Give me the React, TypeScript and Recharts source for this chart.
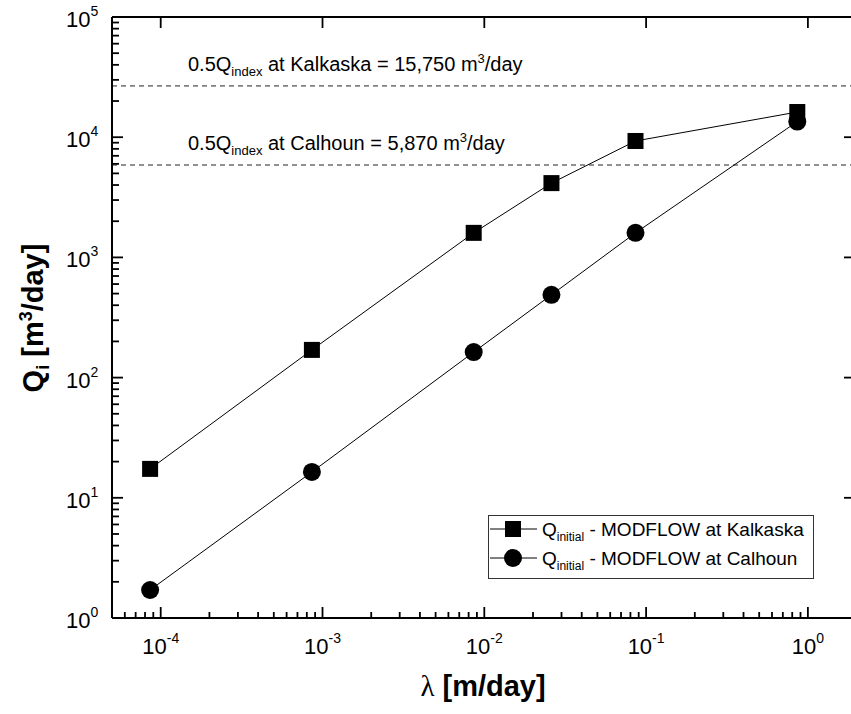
import React from 'react';
import { ScatterChart, Scatter, XAxis, YAxis, ReferenceLine, Legend } from 'recharts';

// ---- data ----
const lambdaValues = [8.6e-5, 8.6e-4, 8.6e-3, 0.026, 0.086, 0.86];
const kalkaskaQ = [17.4, 170, 1600, 4150, 9300, 16200];
const calhounQ = [1.71, 16.4, 163, 488, 1600, 13500];

const kalkaskaRefQ = 26700; // drawn position of the dashed line
const calhounRefQ = 5870;
const kalkaskaRefLabel = '15,750';
const calhounRefLabel = '5,870';

const xMajorTicks = [1e-4, 1e-3, 1e-2, 1e-1, 1];
const xMajorExponents = ['-4', '-3', '-2', '-1', '0'];
const xMinorTicks = [
  6e-5, 7e-5, 8e-5, 9e-5,
  2e-4, 3e-4, 4e-4, 5e-4, 6e-4, 7e-4, 8e-4, 9e-4,
  2e-3, 3e-3, 4e-3, 5e-3, 6e-3, 7e-3, 8e-3, 9e-3,
  2e-2, 3e-2, 4e-2, 5e-2, 6e-2, 7e-2, 8e-2, 9e-2,
  0.2, 0.3, 0.4, 0.5, 0.6, 0.7, 0.8, 0.9,
];
const yMajorTicks = [1, 10, 100, 1000, 10000, 100000];
const yMajorExponents = ['0', '1', '2', '3', '4', '5'];
const yMinorTicks = [
  2, 3, 4, 5, 6, 7, 8, 9,
  20, 30, 40, 50, 60, 70, 80, 90,
  200, 300, 400, 500, 600, 700, 800, 900,
  2000, 3000, 4000, 5000, 6000, 7000, 8000, 9000,
  20000, 30000, 40000, 50000, 60000, 70000, 80000, 90000,
];
const legendSites = ['Kalkaska', 'Calhoun'];

const kalkaskaData = lambdaValues.map((l, i) => ({ lambda: l, q: kalkaskaQ[i] }));
const calhounData = lambdaValues.map((l, i) => ({ lambda: l, q: calhounQ[i] }));

const FONT = '"Liberation Sans", Arial, sans-serif';

const BottomTick = (props: any) => {
  const { x, y, payload } = props;
  const idx = xMajorTicks.indexOf(payload.value);
  const major = idx >= 0;
  return (
    <g>
      <line x1={x} y1={y} x2={x} y2={y - (major ? 11 : 6)} stroke="#000" strokeWidth={1.8} />
      {major && (
        <text x={x} y={y + 36} textAnchor="middle" fontSize={22} fontFamily={FONT} fill="#000">
          10<tspan dy={-11} fontSize={14}>{xMajorExponents[idx]}</tspan>
        </text>
      )}
    </g>
  );
};

const TopTick = (props: any) => {
  const { x, y } = props;
  return <line x1={x} y1={y} x2={x} y2={y + 11} stroke="#000" strokeWidth={1.8} />;
};

const LeftTick = (props: any) => {
  const { x, y, payload } = props;
  const idx = yMajorTicks.indexOf(payload.value);
  const major = idx >= 0;
  return (
    <g>
      <line x1={x} y1={y} x2={x + (major ? 11 : 7)} y2={y} stroke="#000" strokeWidth={1.8} />
      {major && (
        <text x={x - 46} y={y + 10} textAnchor="start" fontSize={22} fontFamily={FONT} fill="#000">
          10<tspan dy={-11} fontSize={14}>{yMajorExponents[idx]}</tspan>
        </text>
      )}
    </g>
  );
};

const RightTick = (props: any) => {
  const { x, y } = props;
  return <line x1={x} y1={y} x2={x - 9} y2={y} stroke="#000" strokeWidth={1.8} />;
};

const RefText = (props: any) => {
  const vb = props.viewBox || {};
  const x = (vb.x ?? 112) + 76;
  const y = (vb.y ?? 0) - 15;
  return (
    <text x={x} y={y} fontSize={20} fontFamily={FONT} fill="#000">
      0.5Q<tspan dy={5} fontSize={13}>index</tspan>
      <tspan dy={-5}>{` at ${props.site} = ${props.amount} m`}</tspan>
      <tspan dy={-8} fontSize={13}>3</tspan>
      <tspan dy={8}>/day</tspan>
    </text>
  );
};

const SquareShape = (p: any) => (
  <rect x={p.cx - 8} y={p.cy - 8} width={16} height={16} fill="#000" />
);
const CircleShape = (p: any) => <circle cx={p.cx} cy={p.cy} r={9} fill="#000" />;

const LegendBox = () => (
  <svg width={326} height={64} style={{ display: 'block' }}>
    <rect x={0.5} y={0.5} width={325} height={63} fill="#fff" stroke="#333" strokeWidth={1} />
    {legendSites.map((site, i) => {
      const cy = 14 + i * 29;
      return (
        <g key={site}>
          <line x1={2} y1={cy} x2={49} y2={cy} stroke="#000" strokeWidth={1} />
          {i === 0 ? (
            <rect x={17} y={cy - 8} width={16} height={16} fill="#000" />
          ) : (
            <circle cx={25} cy={cy} r={9} fill="#000" />
          )}
          <text x={54} y={cy + 7} fontSize={19} fontFamily={FONT} fill="#000">
            Q<tspan dy={5} fontSize={12}>initial</tspan>
            <tspan dy={-5}>{` - MODFLOW at ${site}`}</tspan>
          </text>
        </g>
      );
    })}
  </svg>
);

export default function App() {
  return (
    <div style={{ position: 'absolute', left: 0, top: 0, width: 851, height: 714, overflow: 'hidden', background: '#fff' }}>
      <ScatterChart
        width={860}
        height={714}
        margin={{ top: 16, left: 111, right: 6, bottom: 95 }}
      >
        <XAxis
          xAxisId="x"
          dataKey="lambda"
          type="number"
          scale="log"
          domain={[5e-5, 1.9]}
          allowDataOverflow
          ticks={[...xMinorTicks, ...xMajorTicks]}
          interval={0}
          height={1}
          tickSize={0}
          tickMargin={0}
          tickLine={false}
          axisLine={{ stroke: '#000', strokeWidth: 2 }}
          tick={<BottomTick />}
        />
        <XAxis
          xAxisId="top"
          orientation="top"
          dataKey="lambda"
          type="number"
          scale="log"
          domain={[5e-5, 1.9]}
          allowDataOverflow
          ticks={xMajorTicks}
          interval={0}
          height={1}
          tickSize={0}
          tickMargin={0}
          tickLine={false}
          axisLine={{ stroke: '#000', strokeWidth: 2 }}
          tick={<TopTick />}
        />
        <YAxis
          yAxisId="y"
          dataKey="q"
          type="number"
          scale="log"
          domain={[1, 100000]}
          allowDataOverflow
          ticks={[...yMinorTicks, ...yMajorTicks]}
          interval={0}
          width={1}
          tickSize={0}
          tickMargin={0}
          tickLine={false}
          axisLine={{ stroke: '#000', strokeWidth: 2 }}
          tick={<LeftTick />}
        />
        <YAxis
          yAxisId="right"
          orientation="right"
          dataKey="q"
          type="number"
          scale="log"
          domain={[1, 100000]}
          allowDataOverflow
          ticks={yMajorTicks}
          interval={0}
          width={1}
          tickSize={0}
          tickMargin={0}
          tickLine={false}
          axisLine={{ stroke: '#000', strokeWidth: 2 }}
          tick={<RightTick />}
        />
        <ReferenceLine
          xAxisId="x"
          yAxisId="y"
          y={kalkaskaRefQ}
          stroke="#222"
          strokeWidth={1}
          strokeDasharray="5 4"
          label={<RefText site="Kalkaska" amount={kalkaskaRefLabel} />}
        />
        <ReferenceLine
          xAxisId="x"
          yAxisId="y"
          y={calhounRefQ}
          stroke="#222"
          strokeWidth={1}
          strokeDasharray="5 4"
          label={<RefText site="Calhoun" amount={calhounRefLabel} />}
        />
        <Scatter
          name="Kalkaska"
          xAxisId="x"
          yAxisId="y"
          data={kalkaskaData}
          line={{ stroke: '#000', strokeWidth: 1 }}
          lineType="joint"
          shape={SquareShape}
          isAnimationActive={false}
        />
        <Scatter
          name="Calhoun"
          xAxisId="x"
          yAxisId="y"
          data={calhounData}
          line={{ stroke: '#000', strokeWidth: 1 }}
          lineType="joint"
          shape={CircleShape}
          isAnimationActive={false}
        />
        <Legend
          layout="horizontal"
          verticalAlign="middle"
          align="center"
          wrapperStyle={{ left: 488, top: 515, width: 326, height: 64 }}
          content={<LegendBox />}
        />
        <text
          transform="translate(43,318) rotate(-90)"
          textAnchor="middle"
          fontSize={29}
          fontWeight="bold"
          fontFamily={FONT}
          fill="#000"
        >
          Q<tspan dy={6} fontSize={18}>i</tspan>
          <tspan dy={-6}> [m</tspan>
          <tspan dy={-11} fontSize={18}>3</tspan>
          <tspan dy={11}>/day]</tspan>
        </text>
        <text x={483} y={696} textAnchor="middle" fontSize={29} fontWeight="bold" fontFamily={FONT} fill="#000">
          <tspan fontFamily='"Liberation Serif", "DejaVu Serif", serif' fontWeight="normal">λ</tspan> [m/day]
        </text>
      </ScatterChart>
    </div>
  );
}
